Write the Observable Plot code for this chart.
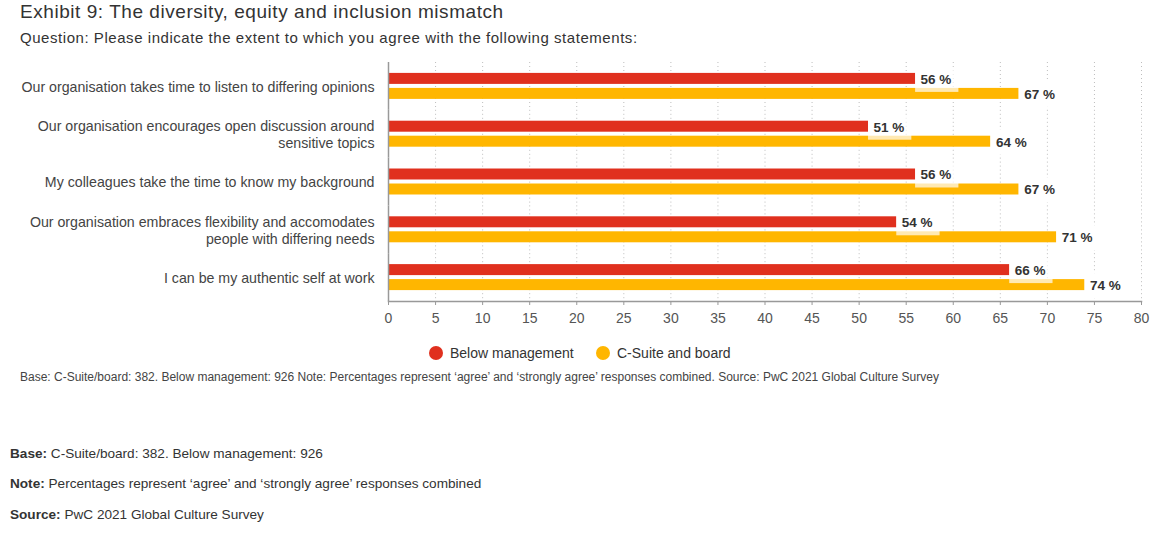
<!DOCTYPE html>
<html>
<head>
<meta charset="utf-8">
<script src="https://cdn.jsdelivr.net/npm/d3@7"></script>
<script src="https://cdn.jsdelivr.net/npm/@observablehq/plot@0.6"></script>
<style>
  html, body { margin: 0; padding: 0; background: #fff; }
  body { width: 1173px; height: 533px; position: relative; font-family: "Liberation Sans", Arial, sans-serif; color: #333; }
  .abs { position: absolute; white-space: nowrap; }
  #title { left: 20px; top: 0; font-size: 19px; letter-spacing: 0.55px; line-height: 24px; color: #333; }
  #subtitle { left: 20px; top: 27px; font-size: 15px; letter-spacing: 0.55px; line-height: 22px; color: #333; }
  #chart { left: 0; top: 49px; }
  #legend { left: 0; top: 341px; height: 24px; font-size: 14px; line-height: 24px; color: #333; }
  .item { position: absolute; top: 0; white-space: nowrap; }
  .dot { display: inline-block; width: 14px; height: 14px; border-radius: 50%; vertical-align: -2px; margin-right: 7px; }
  #caption { left: 20px; top: 369px; font-size: 12px; line-height: 16px; color: #444; }
  .note { left: 10px; font-size: 13.6px; line-height: 18px; color: #333; }
  .note b { font-weight: bold; }
</style>
</head>
<body>
<div id="title" class="abs">Exhibit 9: The diversity, equity and inclusion mismatch</div>
<div id="subtitle" class="abs">Question: Please indicate the extent to which you agree with the following statements:</div>
<div id="chart" class="abs"></div>
<div id="legend" class="abs"></div>
<div id="caption" class="abs">Base: C-Suite/board: 382. Below management: 926 Note: Percentages represent ‘agree’ and ‘strongly agree’ responses combined. Source: PwC 2021 Global Culture Survey</div>
<div class="abs note" style="top:445px"><b>Base:</b> C-Suite/board: 382. Below management: 926</div>
<div class="abs note" style="top:475px"><b>Note:</b> Percentages represent ‘agree’ and ‘strongly agree’ responses combined</div>
<div class="abs note" style="top:506px"><b>Source:</b> PwC 2021 Global Culture Survey</div>
<script>
// ---- data ----
const questions = [
  "Our organisation takes time to listen to differing opinions",
  "Our organisation encourages open discussion around\nsensitive topics",
  "My colleagues take the time to know my background",
  "Our organisation embraces flexibility and accomodates\npeople with differing needs",
  "I can be my authentic self at work"
];
const series = ["Below management", "C-Suite and board"];
const seriesColors = ["#E0301E", "#FFB600"];
const belowManagement = [56, 51, 56, 54, 66];
const cSuiteBoard = [67, 64, 67, 71, 74];
const xTicks = [0, 5, 10, 15, 20, 25, 30, 35, 40, 45, 50, 55, 60, 65, 70, 75, 80];
const gridTicks = [5, 10, 15, 20, 25, 30, 35, 40, 45, 50, 55, 60, 65, 70, 75, 80];

const rows = [];
questions.forEach((q, i) => {
  rows.push({question: q, series: series[0], value: belowManagement[i]});
  rows.push({question: q, series: series[1], value: cSuiteBoard[i]});
});

const chart = Plot.plot({
  width: 1173,
  height: 282,
  marginTop: 13,
  marginBottom: 30,
  marginLeft: 388,
  marginRight: 32,
  style: {fontFamily: "'Liberation Sans', Arial, sans-serif", background: "transparent"},
  x: {domain: [0, 80], axis: null},
  fy: {domain: questions, padding: 0, round: false, axis: null},
  y: {domain: series, paddingInner: 0.267, paddingOuter: 0.727, round: false, axis: null},
  color: {domain: series, range: seriesColors},
  marks: [
    Plot.ruleX(gridTicks, {stroke: "#bdbdbd", strokeDasharray: "1,3", strokeWidth: 1}),
    Plot.barX(rows, {x: "value", y: "series", fy: "question", fill: "series"}),
    Plot.barX(rows.filter(d => d.series === series[0]), {
      x1: "value", x2: d => d.value + 4.6, y: "series", fy: "question",
      insetTop: -6, insetBottom: -8, fill: "white", fillOpacity: 0.7
    }),
    Plot.barX(rows.filter(d => d.series === series[1]), {
      x1: "value", x2: d => d.value + 4.6, y: "series", fy: "question",
      insetTop: -6, insetBottom: -8, fill: "white", fillOpacity: 1
    }),
    Plot.text(rows, {
      x: "value", y: "series", fy: "question", text: d => d.value + " %",
      dx: 5, dy: 0.5, textAnchor: "start", fontWeight: "bold", fontSize: 13.5, fill: "#333"
    }),
    Plot.text(questions, {
      fy: d => d, text: d => d, frameAnchor: "left", dx: -14, textAnchor: "end",
      fontSize: 14.2, lineHeight: 1.2, fill: "#444"
    }),
    Plot.ruleX([0], {stroke: "#999", strokeWidth: 1.5}),
    Plot.frame({anchor: "bottom", facetAnchor: "bottom", stroke: "#999", strokeWidth: 1.5}),
    Plot.axisX(xTicks, {
      anchor: "bottom", label: null, tickSize: 4, tickPadding: 8, fontSize: 14,
      stroke: "#999", fill: "#555"
    })
  ]
});
document.getElementById("chart").appendChild(chart);

// ---- legend ----
const legend = document.getElementById("legend");
const legendX = [429, 596];
series.forEach((s, i) => {
  const it = document.createElement("div");
  it.className = "item";
  it.style.left = legendX[i] + "px";
  const dot = document.createElement("span");
  dot.className = "dot";
  dot.style.background = seriesColors[i];
  it.appendChild(dot);
  it.appendChild(document.createTextNode(s));
  legend.appendChild(it);
});
</script>
</body>
</html>
